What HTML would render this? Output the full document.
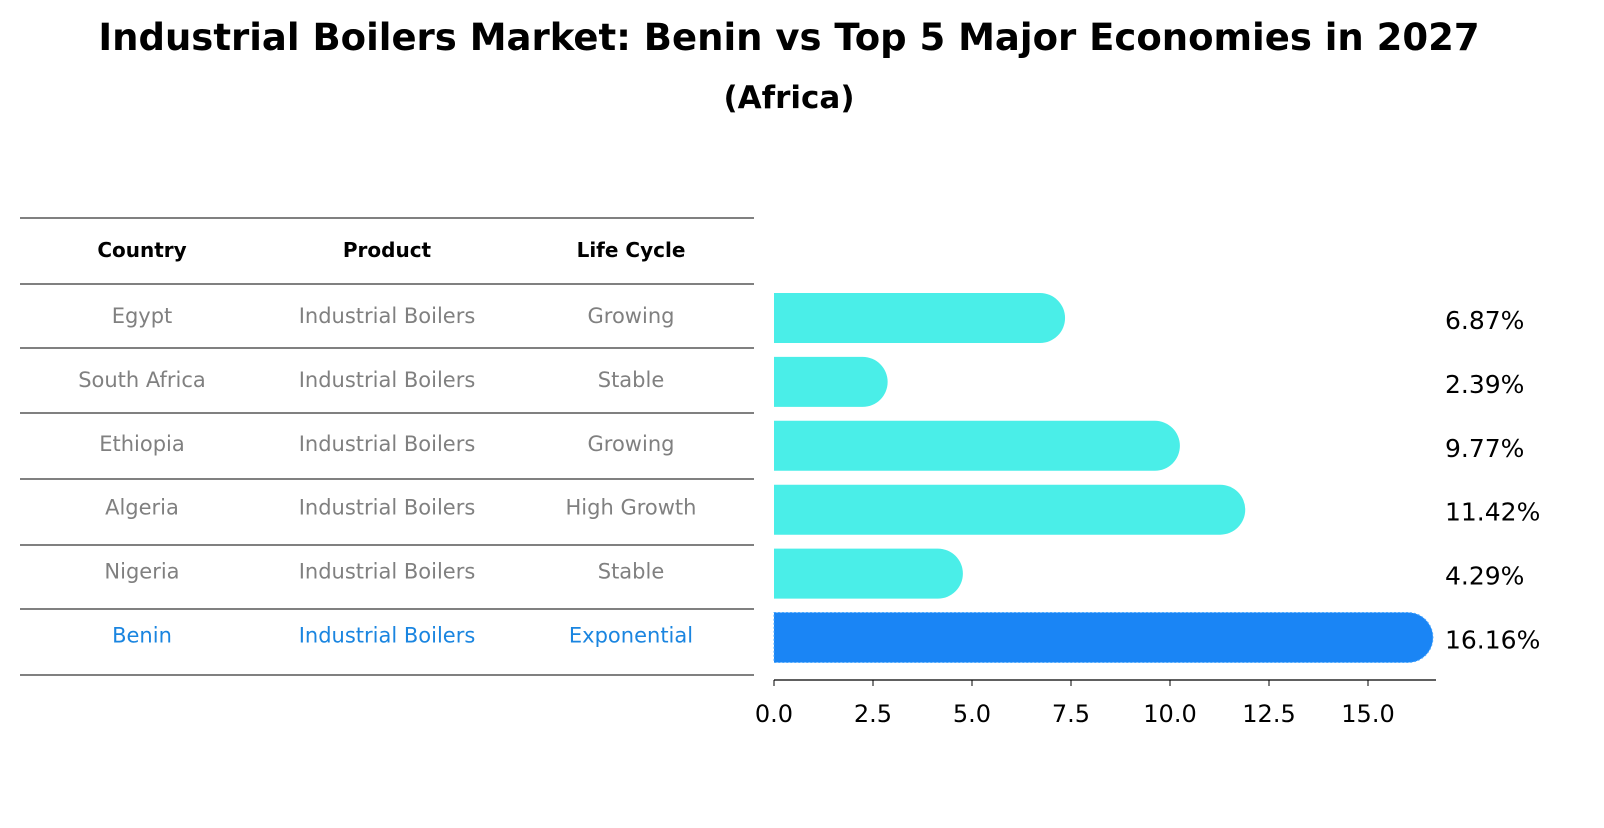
<!DOCTYPE html>
<html><head><meta charset="utf-8"><style>
body{margin:0;background:#fff;width:1604px;height:823px;overflow:hidden;font-family:"Liberation Sans","DejaVu Sans",sans-serif;}
</style></head><body>
<svg width="1604" height="823" xmlns="http://www.w3.org/2000/svg">
<text x="789" y="50" text-anchor="middle" font-size="37" font-weight="bold" font-family="DejaVu Sans, sans-serif">Industrial Boilers Market: Benin vs Top 5 Major Economies in 2027</text>
<text x="789" y="108" text-anchor="middle" font-size="31" font-weight="bold" font-family="DejaVu Sans, sans-serif">(Africa)</text>
<g id="table"></g>
<g id="bars"></g>
</svg>
<script>
const countries=["Egypt","South Africa","Ethiopia","Algeria","Nigeria","Benin"];
const products=["Industrial Boilers","Industrial Boilers","Industrial Boilers","Industrial Boilers","Industrial Boilers","Industrial Boilers"];
const lifeCycles=["Growing","Stable","Growing","High Growth","Stable","Exponential"];
const values=[6.87,2.39,9.77,11.42,4.29,16.16];
const ticks=[0,2.5,5,7.5,10,12.5,15];
const NS="http://www.w3.org/2000/svg";
const x0=774,pxPerUnit=39.6;
const xs=v=>x0+v*pxPerUnit;
const rowY=i=>318+i*63.9;
function mk(tag,attrs,parent){const e=document.createElementNS(NS,tag);for(const k in attrs)e.setAttribute(k,attrs[k]);parent.appendChild(e);return e;}
const tbl=document.getElementById('table');
const lineYs=[218,284,348,413,479,545,609,675];
lineYs.forEach(y=>{const l=mk('line',{x1:20,x2:754,y1:y,y2:y,stroke:'#000','stroke-width':1},tbl);

});
const colX=[142,387,631];
["Country","Product","Life Cycle"].forEach((h,j)=>{const t=mk('text',{x:colX[j],y:257,'text-anchor':'middle','font-size':20,'font-weight':'bold','font-family':'DejaVu Sans, sans-serif'},tbl);t.textContent=h;

});
countries.forEach((c,i)=>{const col=i===5?'#1a85e0':'#808080';
[c,products[i],lifeCycles[i]].forEach((v,j)=>{const t=mk('text',{x:colX[j],y:rowY(i)+5,'text-anchor':'middle','font-size':21,fill:col,'font-family':'DejaVu Sans, sans-serif'},tbl);t.textContent=v;

});});
const g=document.getElementById('bars');
const h=50,r=25;
values.forEach((v,i)=>{const y=rowY(i)-h/2;const xe=xs(v);const col=i===5?'#1a85f5':'#4aeee8';
const p=mk('path',{d:`M${x0},${y} H${xe-r+19} A${r},${r} 0 0 1 ${xe-r+19},${y+h} H${x0} Z`,fill:col},g);


if(i===5){p.setAttribute('stroke','#4aa8ff');p.setAttribute('stroke-dasharray','2,2');}
const t=mk('text',{x:1445,y:rowY(i)+11,'font-size':25,'font-family':'DejaVu Sans, sans-serif'},g);t.textContent=v.toFixed(2)+'%';

});
const ax=mk('line',{x1:x0,x2:1436,y1:680,y2:680,stroke:'#000','stroke-width':1.2},g);


ticks.forEach(tv=>{const x=xs(tv);const tk=mk('line',{x1:x,x2:x,y1:680,y2:686,stroke:'#000'},g);


const t=mk('text',{x:x,y:722,'text-anchor':'middle','font-size':24,'font-family':'DejaVu Sans, sans-serif'},g);t.textContent=tv.toFixed(1);

});
</script>
</body></html>
